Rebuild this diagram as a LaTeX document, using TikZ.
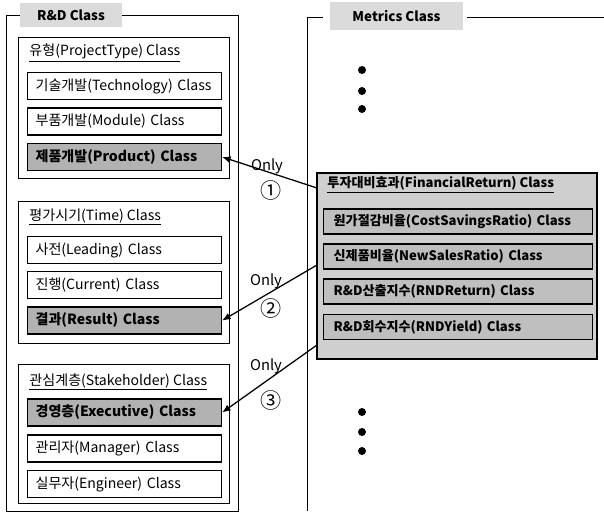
\documentclass[tikz,border=0pt]{standalone}
\usepackage{fontspec}
\setmainfont{Noto Sans CJK KR}
\usetikzlibrary{arrows.meta}
\begin{document}
\begin{tikzpicture}[x=.025cm,y=-.025cm,line width=.7pt,font=\fontsize{10}{11}\selectfont,
  frmttl/.style={fill=gray!28,font=\fontsize{9.5}{10}\selectfont\bfseries,inner sep=0pt},
  item/.style={draw,line width=.8pt,anchor=west,minimum height=.675cm,text width=4.45cm,inner xsep=.2cm,align=left},
  itemg/.style={item,fill=gray!60,font=\fontsize{10}{11}\selectfont\bfseries},
  metric/.style={draw,line width=1pt,fill=gray!50,anchor=west,minimum height=.625cm,text width=6.225cm,inner xsep=.25cm,align=left,font=\fontsize{9.3}{10}\selectfont\bfseries},
  only/.style={font=\fontsize{10.5}{11}\selectfont},
  num/.style={font=\fontsize{15}{16}\selectfont}]
\useasboundingbox (0,0) rectangle (604,513);
% R&D frame
\draw (6,15)--(6,511)--(238,511)--(238,15)--cycle;
\node[frmttl,minimum width=2.55cm,minimum height=.6cm] (rnd) at (71,15) {R\&D Class};
\draw (18,37) rectangle (229,178); \draw (18,201) rectangle (229,343); \draw (18,364) rectangle (229,503);
\node[anchor=west,inner sep=0pt] (tType) at (29,53) {\underline{유형(ProjectType) Class}};
\node[item] (tech) at (27,86) {기술개발(Technology) Class};
\node[item] (mod) at (27,121.5) {부품개발(Module) Class};
\node[itemg] (prod) at (27,157) {제품개발(Product) Class};
\node[anchor=west,inner sep=0pt] (tTime) at (29,217) {\underline{평가시기(Time) Class}};
\node[item] (lead) at (27,250) {사전(Leading) Class};
\node[item] (cur) at (27,285) {진행(Current) Class};
\node[itemg] (res) at (27,320.5) {결과(Result) Class};
\node[anchor=west,inner sep=0pt] (tStake) at (29,382) {\underline{관심계층(Stakeholder) Class}};
\node[itemg] (exec) at (27,412.5) {경영층(Executive) Class};
\node[item] (mgr) at (27,448.5) {관리자(Manager) Class};
\node[item] (eng) at (27,484) {실무자(Engineer) Class};
% Metrics frame
\draw (307,511)--(307,17)--(604,17); \draw[white,line width=3pt] (323,17)--(467,17);
\node[frmttl,minimum width=3.325cm,minimum height=.675cm] (met) at (396.5,16) {Metrics Class};
\foreach \y in {70,91,109,412,432,451} \fill (362,\y) circle (4);
\draw[line width=.9pt,fill=gray!38] (317,173) rectangle (597,359);
\node[anchor=west,inner sep=0pt,font=\fontsize{9.3}{10}\selectfont\bfseries] (fin) at (327,185) {\underline{투자대비효과(FinancialReturn) Class}};
\node[metric] (cost) at (323,221.5) {원가절감비율(CostSavingsRatio) Class};
\node[metric] (sales) at (323,256.5) {신제품비율(NewSalesRatio) Class};
\node[metric] (ret) at (323,291.5) {R\&D산출지수(RNDReturn) Class};
\node[metric] (yld) at (323,327) {R\&D회수지수(RNDYield) Class};
% Only links
\coordinate (s1) at (317,188); \coordinate (s2) at (317,265); \coordinate (s3) at (317,345);
\draw[-{Latex[length=6pt,width=5pt]},line width=.9pt] (s1)--(prod.east);
\draw[-{Latex[length=6pt,width=5pt]},line width=.9pt] (s2)--(res.east);
\draw[-{Latex[length=6pt,width=5pt]},line width=.9pt] (s3)--(exec.east);
\node[only] (o1) at (267,166) {Only}; \node[num] (n1) at (271,190) {①};
\node[only] (o2) at (266,281) {Only}; \node[num] (n2) at (271,308) {②};
\node[only] (o3) at (266,366) {Only}; \node[num] (n3) at (271,400) {③};
\end{tikzpicture}
\end{document}
